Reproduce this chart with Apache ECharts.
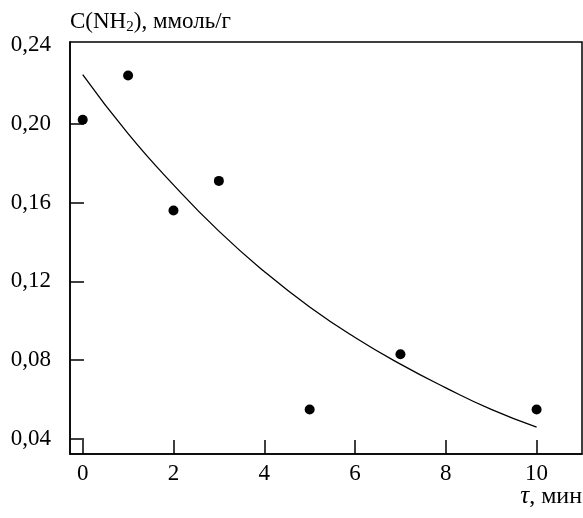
<!DOCTYPE html>
<html>
<head>
<meta charset="utf-8">
<script src="https://cdn.jsdelivr.net/npm/echarts@6/dist/echarts.min.js"></script>
<style>
html,body{margin:0;padding:0;background:#fff;}
#chart{width:583px;height:518px;}
</style>
</head>
<body>
<div id="chart"></div>
<script>
// Measured points
var tau = [0, 1, 2, 3, 5, 7, 10];
var conc = [0.202, 0.2245, 0.156, 0.171, 0.055, 0.083, 0.055];
// Fitted curve
var fitTau = [0, 1, 2, 3, 4, 5, 6, 7, 8, 9, 10];
var fitConc = [0.225, 0.195, 0.169, 0.1455, 0.125, 0.107, 0.0915, 0.078, 0.066, 0.055, 0.046];
// Tick labels
var xTicks = [0, 2, 4, 6, 8, 10];
var yTicks = [0.04, 0.08, 0.12, 0.16, 0.20, 0.24];
var yTickMarks = [0.04, 0.08, 0.12, 0.16, 0.20];

var FONT = "'Liberation Serif', 'Times New Roman', serif";

var chart = echarts.init(document.getElementById('chart'), null, {renderer: 'canvas'});
chart.setOption({
  animation: false,
  backgroundColor: '#fff',
  grid: {left: 70, right: 1, top: 42, bottom: 64, containLabel: false, outerBoundsMode: 'none',
         show: true, borderColor: '#000', borderWidth: 1.5, backgroundColor: 'transparent'},
  graphic: [{
    type: 'text', right: 1, top: 484,
    style: {
      text: '{i|τ}{n|, мин}',
      rich: {
        i: {fontFamily: FONT, fontSize: 25, fontStyle: 'italic', fill: '#000'},
        n: {fontFamily: FONT, fontSize: 24, fill: '#000'}
      }
    }
  }],
  xAxis: {
    type: 'value', min: -0.28, max: 11.0,
    splitLine: {show: false},
    axisLine: {show: true, onZero: false, lineStyle: {color: '#000', width: 1.5}},
    axisTick: {show: true, inside: true, length: 14, customValues: xTicks, lineStyle: {color: '#000', width: 1.5}},
    axisLabel: {customValues: xTicks, margin: 8, color: '#000', fontFamily: FONT, fontSize: 23}
  },
  yAxis: {
    type: 'value', min: 0.0324, max: 0.2415,
    splitLine: {show: false},
    axisLine: {show: true, onZero: false, lineStyle: {color: '#000', width: 1.5}},
    axisTick: {show: true, inside: true, length: 14, customValues: yTickMarks, lineStyle: {color: '#000', width: 1.5}},
    axisLabel: {
      customValues: yTicks, margin: 19, color: '#000', fontFamily: FONT, fontSize: 23,
      formatter: function (v) { return v.toFixed(2).replace('.', ','); }
    },
    name: '{a|C(NH}{s|2}{a|), ммоль/г}',
    nameLocation: 'end', nameGap: 7,
    nameTextStyle: {
      align: 'left',
      rich: {
        a: {fontFamily: FONT, fontSize: 23, lineHeight: 26, color: '#000', verticalAlign: 'middle'},
        s: {fontFamily: FONT, fontSize: 15, lineHeight: 10, color: '#000', verticalAlign: 'bottom'}
      }
    }
  },
  series: [
    {
      type: 'line', smooth: true, showSymbol: false, silent: true,
      data: fitTau.map(function (t, i) { return [t, fitConc[i]]; }),
      lineStyle: {color: '#000', width: 1.3}
    },
    {
      type: 'scatter', symbol: 'circle', symbolSize: 10,
      data: tau.map(function (t, i) { return [t, conc[i]]; }),
      itemStyle: {color: '#000', opacity: 1}
    }
  ]
});
</script>
</body>
</html>
